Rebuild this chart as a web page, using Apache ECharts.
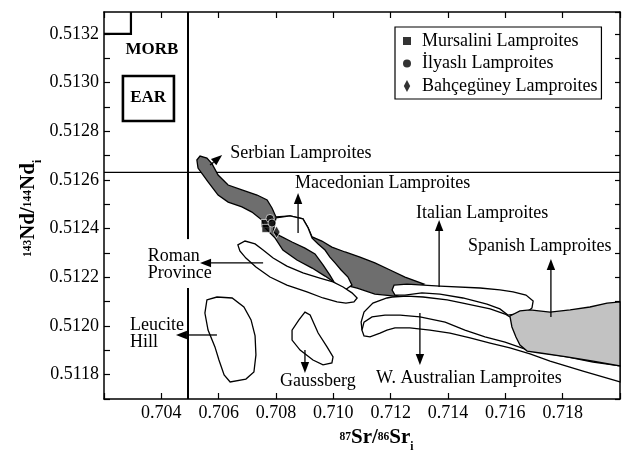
<!DOCTYPE html>
<html><head><meta charset="utf-8">
<script src="https://cdn.jsdelivr.net/npm/echarts/dist/echarts.min.js"></script>
<style>html,body{margin:0;padding:0;background:#fff}#c{width:627px;height:450px}</style>
</head><body><div id="c"></div>
<script>
const FONT = 'Liberation Serif';
const xMin = 0.702, xMax = 0.720, xStep = 0.002;
const yMin = 0.5117, yMax = 0.51329, yStep = 0.0001;
const xTickLabels = ['0.704','0.706','0.708','0.710','0.712','0.714','0.716','0.718'];
const yTickLabels = ['0.5118','0.5120','0.5122','0.5124','0.5126','0.5128','0.5130','0.5132'];

// samples
const mursalini = [[0.70762,0.512421],[0.70765,0.512401]];
const ilyasli = [[0.70779,0.512442],[0.70786,0.512423]];
const bahceguney = [[0.70802,0.512386]];

// fields
const serbianField = [[0.70524,0.512682],[0.70535,0.512698],[0.70559,0.512690],[0.70577,0.512666],[0.70598,0.512620],[0.70633,0.512579],[0.70681,0.512559],[0.70734,0.512538],[0.70769,0.512518],[0.70786,0.512485],[0.70800,0.512448],[0.70849,0.512452],[0.70894,0.512440],[0.70912,0.512403],[0.70926,0.512366],[0.70960,0.512349],[0.70995,0.512324],[0.71041,0.512304],[0.71093,0.512283],[0.71145,0.512259],[0.71198,0.512230],[0.71250,0.512201],[0.71316,0.512172],[0.71267,0.512148],[0.71215,0.512123],[0.71145,0.512131],[0.71083,0.512156],[0.71041,0.512168],[0.71006,0.512177],[0.70971,0.512205],[0.70926,0.512238],[0.70873,0.512271],[0.70824,0.512312],[0.70797,0.512361],[0.70762,0.512403],[0.70751,0.512435],[0.70716,0.512468],[0.70681,0.512489],[0.70633,0.512509],[0.70598,0.512538],[0.70563,0.512592],[0.70528,0.512649]];
const macedonianField = [[0.70800,0.512444],[0.70849,0.512452],[0.70894,0.512440],[0.70912,0.512403],[0.70926,0.512361],[0.70947,0.512337],[0.70971,0.512312],[0.70988,0.512283],[0.71006,0.512259],[0.71027,0.512230],[0.71051,0.512201],[0.71065,0.512168],[0.71041,0.512148],[0.71016,0.512160],[0.71002,0.512181],[0.70988,0.512209],[0.70964,0.512251],[0.70936,0.512296],[0.70901,0.512320],[0.70856,0.512345],[0.70814,0.512370],[0.70790,0.512386]];
const romanField = [[0.70667,0.512333],[0.70692,0.512349],[0.70727,0.512337],[0.70755,0.512312],[0.70790,0.512279],[0.70838,0.512246],[0.70894,0.512218],[0.70953,0.512197],[0.70999,0.512181],[0.71034,0.512160],[0.71065,0.512136],[0.71083,0.512115],[0.71072,0.512099],[0.71044,0.512094],[0.71013,0.512099],[0.70964,0.512115],[0.70908,0.512140],[0.70838,0.512168],[0.70779,0.512201],[0.70730,0.512242],[0.70695,0.512279],[0.70674,0.512308]];
const italianField = [[0.71212,0.512168],[0.71257,0.512172],[0.71372,0.512164],[0.71512,0.512156],[0.71581,0.512148],[0.71627,0.512140],[0.71672,0.512127],[0.71697,0.512103],[0.71693,0.512074],[0.71676,0.512057],[0.71634,0.512049],[0.71609,0.512045],[0.71581,0.512070],[0.71536,0.512090],[0.71452,0.512115],[0.71372,0.512131],[0.71309,0.512136],[0.71250,0.512127],[0.71215,0.512127],[0.71205,0.512148]];
const italianLower = [[0.71100,0.511983],[0.71097,0.512016],[0.71107,0.512057],[0.71138,0.512094],[0.71187,0.512115],[0.71205,0.512119],[0.71257,0.512123],[0.71313,0.512119],[0.71397,0.512107],[0.71452,0.512094],[0.71547,0.512070],[0.71599,0.512049],[0.71616,0.512037]];
const spanishField = [[0.71616,0.512041],[0.71651,0.512062],[0.71686,0.512066],[0.71756,0.512057],[0.71826,0.512066],[0.71895,0.512078],[0.71955,0.512094],[0.72000,0.512099],[0.72000,0.511836],[0.71906,0.511856],[0.71815,0.511873],[0.71721,0.511889],[0.71676,0.511897],[0.71651,0.511922],[0.71637,0.511955],[0.71623,0.511996]];
const wAustralianField = [[0.71100,0.511983],[0.71107,0.512016],[0.71135,0.512037],[0.71180,0.512045],[0.71233,0.512045],[0.71302,0.512037],[0.71390,0.512016],[0.71459,0.511983],[0.71529,0.511955],[0.71599,0.511934],[0.71669,0.511905],[0.71738,0.511889],[0.71815,0.511873],[0.71906,0.511852],[0.72000,0.511836],[0.72000,0.511770],[0.71871,0.511815],[0.71756,0.511856],[0.71686,0.511885],[0.71616,0.511910],[0.71547,0.511930],[0.71477,0.511951],[0.71407,0.511971],[0.71337,0.511983],[0.71267,0.511992],[0.71215,0.511992],[0.71187,0.511983],[0.71163,0.511971],[0.71128,0.511955],[0.71107,0.511959]];
const leuciteField = [[0.70559,0.512107],[0.70594,0.512119],[0.70647,0.512115],[0.70688,0.512078],[0.70713,0.512025],[0.70727,0.511959],[0.70730,0.511881],[0.70723,0.511811],[0.70695,0.511782],[0.70640,0.511770],[0.70619,0.511799],[0.70601,0.511860],[0.70587,0.511914],[0.70563,0.511983],[0.70552,0.512053]];
const gaussbergField = [[0.70901,0.512057],[0.70919,0.512045],[0.70947,0.511971],[0.70978,0.511914],[0.70999,0.511873],[0.70995,0.511848],[0.70964,0.511840],[0.70929,0.511860],[0.70884,0.511901],[0.70856,0.511942],[0.70856,0.511983],[0.70880,0.512025]];

// reference lines
const bseLineUpper = [[0.70493,0.51329],[0.70493,0.512357]];
const bseLineLower = [[0.70493,0.512156],[0.70493,0.5117]];
const churLine = [[0.702,0.512631],[0.720,0.512631]];
const morbCorner = [[0.702,0.5132],[0.70294,0.5132],[0.70294,0.51329]];
const earBox = [[0.70266,0.513027],[0.70444,0.513027],[0.70444,0.512842],[0.70266,0.512842]];

// arrows [x1,y1,x2(tip),y2(tip)]
const arrows = [
  [0.70570,0.512661,0.70612,0.512702],
  [0.70877,0.512382,0.70877,0.512546],
  [0.70755,0.512259,0.70535,0.512259],
  [0.70594,0.511963,0.70451,0.511963],
  [0.71369,0.512160,0.71369,0.512435],
  [0.71759,0.512037,0.71759,0.512275],
  [0.71302,0.512053,0.71302,0.511840],
  [0.70901,0.511901,0.70901,0.511807]
];

const fieldLabels = ['Serbian Lamproites','Macedonian Lamproites','Italian Lamproites','Spanish Lamproites','W. Australian Lamproites','Gaussberg','Roman\nProvince','Leucite\nHill'];
const fieldLabelPos = [[0.70640,0.512711],[0.70866,0.512587],[0.71288,0.512464],[0.71470,0.512329],[0.71149,0.511786],[0.70814,0.511774],[0.70353,0.512251],[0.70291,0.511969]];
const boxLabels = ['MORB','EAR'];
const boxLabelPos = [[0.70367,0.513135],[0.70354,0.512937]];

const DARK = '#6e6e6e', LIGHT = '#c2c2c2';

function fieldSeries(pts, fill, lw) {
  return { type:'custom', coordinateSystem:'cartesian2d', silent:true, animation:false,
    data:[pts[0]], encode:{x:0,y:1},
    renderItem:(p, api) => ({ type:'polygon', shape:{ points: pts.map(q => api.coord(q)) },
      style:{ fill: fill, stroke:'#000', lineWidth: lw } }) };
}
function lineSeries(pts, lw) {
  return { type:'custom', coordinateSystem:'cartesian2d', silent:true, animation:false,
    data:[pts[0]], encode:{x:0,y:1},
    renderItem:(p, api) => ({ type:'polyline', shape:{ points: pts.map(q => api.coord(q)) },
      style:{ fill:null, stroke:'#000', lineWidth: lw } }) };
}

const axisLine = { show:true, lineStyle:{ color:'#000', width:1.5 } };
const nameRich = {
  b:{ fontFamily:FONT, fontSize:21, fontWeight:'bold', color:'#000', lineHeight:30 },
  sup:{ fontFamily:FONT, fontSize:11.5, fontWeight:'bold', color:'#000', verticalAlign:'top', lineHeight:12, padding:[8,0,0,0] },
  sub:{ fontFamily:FONT, fontSize:11.5, fontWeight:'bold', color:'#000', verticalAlign:'bottom', lineHeight:12 }
};

const option = {
  backgroundColor:'#fff',
  animation:false,
  grid:{ left:104, top:12, width:516, height:387, containLabel:false, outerBoundsMode:'none' },
  legend:{
    orient:'vertical', left:395, top:27, itemWidth:20, itemHeight:12, itemGap:4.5,
    padding:[5,4,4,8], borderColor:'#000', borderWidth:1.2, borderRadius:0,
    backgroundColor:'#fff', itemStyle:{ borderWidth:0 },
    textStyle:{ fontFamily:FONT, fontSize:18, lineHeight:18, color:'#000' },
    data:[
      { name:'Mursalini Lamproites', icon:'path://M4,-2L4,-2M0,0h8v8h-8zM4,10L4,10' },
      { name:'İlyaslı Lamproites', icon:'path://M4,-2L4,-2M4,0A4,4,0,1,1,4,8A4,4,0,1,1,4,0zM4,10L4,10' },
      { name:'Bahçegüney Lamproites', icon:'path://M3.2,-1L6.4,5L3.2,11L0,5z' }
    ]
  },
  xAxis:[{
    type:'value', min:xMin, max:xMax, interval:xStep, position:'bottom',
    axisLine, splitLine:{show:false},
    axisTick:{ show:true, inside:true, length:6, lineStyle:{color:'#000', width:1.2} },
    axisLabel:{ margin:5, fontFamily:FONT, fontSize:18, color:'#000',
      formatter: v => { const s = v.toFixed(3); return xTickLabels.includes(s) ? s : ''; } },
    name:'{sup|87}{b|Sr/}{sup|86}{b|Sr}{sub|i}', nameLocation:'middle', nameGap:24, nameMoveOverlap:false,
    nameTextStyle:{ padding:[0,0,0,29], rich:nameRich }
  },{
    type:'value', min:xMin, max:xMax, interval:xStep, position:'top',
    axisLine, splitLine:{show:false},
    axisTick:{ show:true, inside:true, length:6, lineStyle:{color:'#000', width:1.2} },
    axisLabel:{ show:false }
  }],
  yAxis:[{
    type:'value', min:yMin, max:yMax, interval:yStep, position:'left',
    axisLine, splitLine:{show:false},
    axisTick:{ show:true, inside:true, length:6, lineStyle:{color:'#000', width:1.2} },
    axisLabel:{ margin:5, fontFamily:FONT, fontSize:18, color:'#000', showMaxLabel:false,
      formatter: v => { const s = v.toFixed(4); return yTickLabels.includes(s) ? s : ''; } },
    name:'{sup|143}{b|Nd/}{sup|144}{b|Nd}{sub|i}', nameLocation:'middle', nameRotate:90, nameGap:60, nameMoveOverlap:false,
    nameTextStyle:{ padding:[0,6,0,0], rich:nameRich }
  },{
    type:'value', min:yMin, max:yMax, interval:yStep, position:'right',
    axisLine, splitLine:{show:false},
    axisTick:{ show:true, inside:true, length:5, lineStyle:{color:'#000', width:1.2} },
    axisLabel:{ show:false }
  }],
  series:[
    lineSeries(churLine, 1.2),
    lineSeries(bseLineUpper, 2),
    lineSeries(bseLineLower, 2),
    lineSeries(morbCorner, 2.2),
    fieldSeries(earBox, 'none', 2.6),
    fieldSeries(serbianField, DARK, 1.3),
    fieldSeries(macedonianField, '#fff', 1.3),
    fieldSeries(romanField, '#fff', 1.3),
    fieldSeries(italianField, '#fff', 1.3),
    lineSeries(italianLower, 1.3),
    fieldSeries(wAustralianField, '#fff', 1.3),
    fieldSeries(spanishField, LIGHT, 1.3),
    fieldSeries(leuciteField, '#fff', 1.3),
    fieldSeries(gaussbergField, '#fff', 1.3),
    { type:'custom', coordinateSystem:'cartesian2d', silent:true, animation:false,
      data: arrows, encode:{ x:[0,2], y:[1,3] },
      renderItem:(p, api) => {
        const a = api.coord([api.value(0), api.value(1)]);
        const b = api.coord([api.value(2), api.value(3)]);
        const dx = b[0]-a[0], dy = b[1]-a[1], L = Math.hypot(dx,dy), ux = dx/L, uy = dy/L;
        const hl = 11, hw = 4.2;
        const bx = b[0]-ux*hl, by = b[1]-uy*hl;
        return { type:'group', children:[
          { type:'line', shape:{ x1:a[0], y1:a[1], x2:bx, y2:by }, style:{ stroke:'#000', lineWidth:1.3 } },
          { type:'polygon', shape:{ points:[[b[0],b[1]],[bx-uy*hw, by+ux*hw],[bx+uy*hw, by-ux*hw]] }, style:{ fill:'#000' } }
        ]};
      } },
    { type:'custom', coordinateSystem:'cartesian2d', silent:true, animation:false,
      data: fieldLabelPos, encode:{ x:0, y:1 },
      renderItem:(p, api) => {
        const c = api.coord([api.value(0), api.value(1)]);
        return { type:'text', x:c[0], y:c[1], style:{ text: fieldLabels[p.dataIndex], fill:'#000',
          font:'18px "Liberation Serif"', textAlign:'left', textVerticalAlign:'middle', lineHeight:17.5 } };
      } },
    { type:'custom', coordinateSystem:'cartesian2d', silent:true, animation:false,
      data: boxLabelPos, encode:{ x:0, y:1 },
      renderItem:(p, api) => {
        const c = api.coord([api.value(0), api.value(1)]);
        return { type:'text', x:c[0], y:c[1], style:{ text: boxLabels[p.dataIndex], fill:'#000',
          font:'bold 17px "Liberation Serif"', textAlign:'center', textVerticalAlign:'middle' } };
      } },
    { type:'scatter', name:'Mursalini Lamproites', data:mursalini, symbol:'rect', symbolSize:8, z:10,
      itemStyle:{ color:'#000', borderColor:'#fff', borderWidth:0.8 } },
    { type:'scatter', name:'İlyaslı Lamproites', data:ilyasli, symbol:'circle', symbolSize:8, z:10,
      itemStyle:{ color:'#000', borderColor:'#fff', borderWidth:0.8 } },
    { type:'scatter', name:'Bahçegüney Lamproites', data:bahceguney, symbol:'diamond', symbolSize:[7,12], z:10,
      itemStyle:{ color:'#000', borderColor:'#fff', borderWidth:0.8 } }
  ]
};
const chart = echarts.init(document.getElementById('c'), null, { renderer:'canvas' });
chart.setOption(option);
</script></body></html>
